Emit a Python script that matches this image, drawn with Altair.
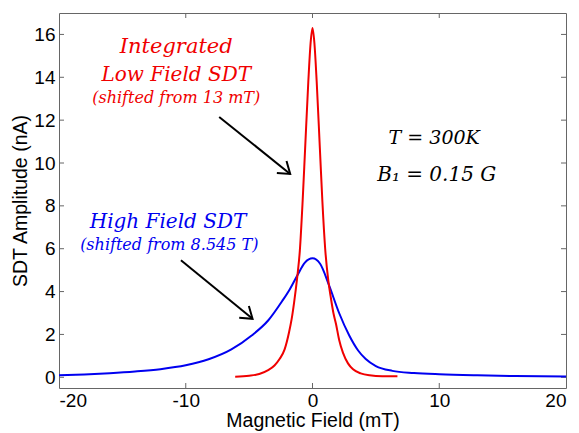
import altair as alt
import pandas as pd

# ---- data ----
red_x = [-6.1, -5.0, -4.2, -3.5, -3.0, -2.6, -2.2, -1.85, -1.65, -1.45, -1.2, -1.0, -0.78, -0.58, -0.33, -0.15, 0.0,
         0.15, 0.33, 0.58, 0.78, 1.0, 1.25, 1.45, 1.65, 1.85, 2.1, 2.4, 2.8, 3.2, 3.8, 4.5, 5.5, 6.7]
red_y = [0.03, 0.07, 0.15, 0.33, 0.55, 0.85, 1.3, 2.1, 2.7, 3.5, 4.7, 5.9, 8.2, 10.7, 13.8, 15.6, 16.3,
         15.6, 13.8, 10.7, 8.2, 6.0, 4.5, 3.7, 3.0, 2.5, 1.75, 1.15, 0.65, 0.37, 0.18, 0.09, 0.05, 0.05]

blue_x = [-20, -18, -16, -14, -12, -10, -8.2, -6.4, -4.8, -3.5, -2.4, -1.8, -1.2, -0.6, 0.0,
          0.6, 1.3, 2.1, 2.9, 3.6, 4.2, 5.0, 6.3, 8.0, 10, 13, 16, 20]
blue_y = [0.09, 0.13, 0.19, 0.27, 0.38, 0.56, 0.84, 1.3, 1.95, 2.65, 3.55, 4.1, 4.75, 5.35, 5.55,
          5.3, 4.3, 3.0, 1.95, 1.25, 0.85, 0.52, 0.3, 0.2, 0.14, 0.09, 0.06, 0.04]

x_ticks = [-20, -10, 0, 10, 20]
y_ticks = [0, 2, 4, 6, 8, 10, 12, 14, 16]
x_inner = [-10, 0, 10]

red_labels = ["Integrated", "Low Field SDT"]
red_sub = "(shifted from 13 mT)"
blue_label = "High Field SDT"
blue_sub = "(shifted from 8.545 T)"
cond_labels = ["T = 300K", "B\u2081 = 0.15 G"]

W, H = 507, 375
RED = "#f00000"
BLUE = "#0000f0"
FRAME = "#666666"
SERIF = "DejaVu Serif"

xs = alt.Scale(domain=[-20, 20], nice=False, zero=False)
ys = alt.Scale(domain=[-0.5, 17], nice=False, zero=False)
X = alt.X("x:Q", scale=xs, title="Magnetic Field (mT)",
          axis=alt.Axis(values=x_ticks, labelExpr="'' + datum.value"))
Y = alt.Y("y:Q", scale=ys, title="SDT Amplitude (nA)",
          axis=alt.Axis(values=y_ticks, labelExpr="'' + datum.value"))

blue = alt.Chart(pd.DataFrame({"x": blue_x, "y": blue_y})).mark_line(
    color=BLUE, strokeWidth=2, interpolate="monotone").encode(x=X, y=Y)
red = alt.Chart(pd.DataFrame({"x": red_x, "y": red_y})).mark_line(
    color=RED, strokeWidth=2, interpolate="monotone").encode(x=X, y=Y)

# inward ticks
xt = pd.DataFrame({"x": x_inner})
yt = pd.DataFrame({"y": y_ticks})
tick_b = alt.Chart(xt).mark_rule(color=FRAME, strokeWidth=1).encode(x=X, y=alt.value(H), y2=alt.value(H - 5))
tick_t = alt.Chart(xt).mark_rule(color=FRAME, strokeWidth=1).encode(x=X, y=alt.value(0), y2=alt.value(5))
tick_l = alt.Chart(yt).mark_rule(color=FRAME, strokeWidth=1).encode(y=Y, x=alt.value(0), x2=alt.value(5))
tick_r = alt.Chart(yt).mark_rule(color=FRAME, strokeWidth=1).encode(y=Y, x=alt.value(W), x2=alt.value(W - 5))

# annotations
def txt(xv, yv, t, color, size):
    return alt.Chart(pd.DataFrame({"x": [xv], "y": [yv], "t": [t]})).mark_text(
        font=SERIF, fontStyle="italic", fontSize=size, color=color,
        align="center", baseline="middle").encode(x=X, y=Y, text="t:N")

texts = [
    txt(-10.75, 15.41, red_labels[0], RED, 21),
    txt(-10.75, 14.09, red_labels[1], RED, 20),
    txt(-10.75, 13.02, red_sub, RED, 16),
    txt(-11.4, 7.26, blue_label, BLUE, 20),
    txt(-11.3, 6.19, blue_sub, BLUE, 16),
    txt(9.6, 11.16, cond_labels[0], "black", 19),
    txt(9.8, 9.44, cond_labels[1], "black", 20),
]

arrows = pd.DataFrame({"x": [-7.36, -10.38], "y": [12.15, 5.46],
                       "x2": [-1.76, -4.73], "y2": [9.49, 2.73]})
arrow_lines = alt.Chart(arrows).mark_rule(color="black", strokeWidth=2).encode(
    x=X, y=Y, x2="x2:Q", y2="y2:Q")
heads = alt.Chart(pd.DataFrame({"x": [-1.76, -4.73], "y": [9.49, 2.73]})).mark_point(
    shape="M -1 -0.7 L 0 0 L -1 0.7", filled=False, stroke="black", strokeWidth=2,
    size=480, angle=39, opacity=1).encode(x=X, y=Y)

chart = alt.layer(
    tick_b, tick_t, tick_l, tick_r, blue, red, arrow_lines, heads, *texts
).properties(
    width=W, height=H,
    autosize=alt.AutoSizeParams(type="none"),
    padding={"left": 59, "top": 13, "right": 13, "bottom": 45},
    background="white",
).configure_view(
    stroke=FRAME, strokeWidth=1
).configure_axis(
    domain=False, ticks=False, tickSize=0, grid=False,
    labelFont="Liberation Sans", labelFontSize=19, labelColor="black",
    titleFont="Liberation Sans", titleFontSize=19.5, titleFontWeight="normal", titleColor="black",
).configure_axisX(
    labelPadding=3, titlePadding=1
).configure_axisY(
    labelPadding=4, titlePadding=3
)

chart.save("out.html", embed_options={"renderer": "svg", "actions": False})
